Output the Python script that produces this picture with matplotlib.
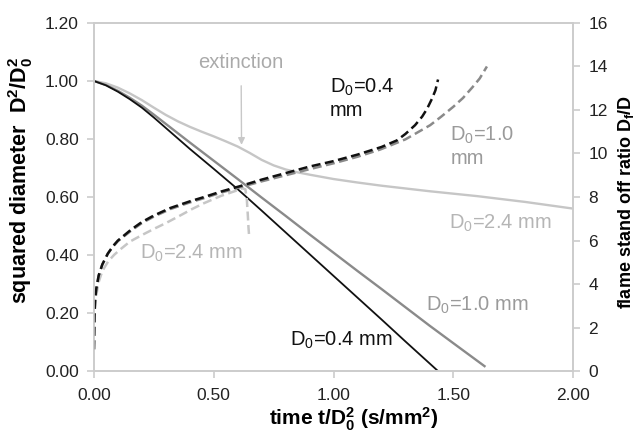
import matplotlib
matplotlib.use('Agg')
from matplotlib import pyplot as plt

plt.rcParams['font.family'] = ['Liberation Sans', 'DejaVu Sans']
plt.rcParams['mathtext.fontset'] = 'custom'
plt.rcParams['mathtext.rm'] = 'Liberation Sans'
plt.rcParams['mathtext.it'] = 'Liberation Sans'
plt.rcParams['mathtext.bf'] = 'Liberation Sans:bold'

# squared diameter D^2/D0^2 (left axis)
t_d04 = [0.0, 0.05, 0.1, 0.15, 0.2, 0.25, 0.3, 0.35, 0.4, 0.5, 0.6, 0.7, 0.8, 0.9, 1.0, 1.1, 1.2, 1.3, 1.436]
d2_d04 = [1.0, 0.985, 0.963, 0.937, 0.908, 0.874, 0.838, 0.802, 0.766, 0.697, 0.627, 0.553, 0.478, 0.403, 0.328, 0.253, 0.178, 0.102, 0.0]

t_d10 = [0.0, 0.05, 0.1, 0.15, 0.2, 0.25, 0.3, 0.35, 0.4, 0.5, 0.6, 0.7, 0.8, 0.9, 1.0, 1.1, 1.2, 1.3, 1.4, 1.5, 1.63]
d2_d10 = [1.0, 0.986, 0.966, 0.942, 0.915, 0.884, 0.852, 0.82, 0.788, 0.725, 0.662, 0.598, 0.535, 0.471, 0.408, 0.345, 0.283, 0.22, 0.157, 0.096, 0.017]

t_d24 = [0.0, 0.05, 0.1, 0.15, 0.2, 0.25, 0.3, 0.35, 0.4, 0.45, 0.5, 0.55, 0.6, 0.65, 0.7, 0.75, 0.8, 0.85, 0.9, 1.0, 1.1, 1.2, 1.4, 1.6, 1.8, 2.0]
d2_d24 = [1.0, 0.992, 0.977, 0.957, 0.934, 0.908, 0.883, 0.861, 0.842, 0.825, 0.809, 0.792, 0.774, 0.752, 0.728, 0.709, 0.695, 0.685, 0.677, 0.662, 0.65, 0.639, 0.62, 0.603, 0.583, 0.56]

# flame stand off ratio Df/D (right axis)
ts_d04 = [0.0, 0.002, 0.005, 0.01, 0.02, 0.035, 0.058, 0.08, 0.1, 0.155, 0.2, 0.25, 0.32, 0.4, 0.46, 0.53, 0.61, 0.7, 0.8, 0.9, 1.0, 1.1, 1.2, 1.264, 1.3, 1.34, 1.37, 1.39, 1.41, 1.425, 1.436]
fs_d04 = [1.0, 2.5, 3.3, 3.8, 4.4, 4.9, 5.4, 5.75, 6.0, 6.5, 6.85, 7.15, 7.5, 7.8, 8.0, 8.25, 8.5, 8.8, 9.1, 9.4, 9.65, 9.95, 10.3, 10.6, 10.9, 11.3, 11.7, 12.05, 12.5, 12.9, 13.4]

ts_d10 = [0.0, 0.002, 0.005, 0.01, 0.02, 0.035, 0.058, 0.08, 0.1, 0.155, 0.2, 0.25, 0.32, 0.4, 0.46, 0.53, 0.61, 0.7, 0.8, 0.9, 1.0, 1.1, 1.194, 1.3, 1.403, 1.45, 1.5, 1.54, 1.58, 1.61, 1.64]
fs_d10 = [1.0, 2.5, 3.3, 3.8, 4.4, 4.9, 5.4, 5.72, 5.97, 6.45, 6.8, 7.1, 7.45, 7.75, 7.95, 8.2, 8.45, 8.72, 9.0, 9.28, 9.55, 9.85, 10.18, 10.65, 11.3, 11.7, 12.15, 12.55, 13.05, 13.45, 14.0]

ts_d24 = [0.0, 0.002, 0.005, 0.01, 0.02, 0.035, 0.06, 0.085, 0.113, 0.15, 0.2, 0.253, 0.3, 0.36, 0.41, 0.46, 0.53, 0.596, 0.62, 0.632, 0.638, 0.642, 0.645, 0.647]
fs_d24 = [1.0, 2.3, 3.0, 3.5, 4.1, 4.6, 5.05, 5.35, 5.62, 5.95, 6.25, 6.55, 6.8, 7.15, 7.45, 7.72, 8.05, 8.3, 8.4, 8.35, 7.9, 7.2, 6.6, 6.3]

x_ticks = [0.0, 0.5, 1.0, 1.5, 2.0]
y_ticks = [0.0, 0.2, 0.4, 0.6, 0.8, 1.0, 1.2]
y2_ticks = [0, 2, 4, 6, 8, 10, 12, 14, 16]

BLACK = '#111111'
GRAY = '#8a8a8a'
LIGHT = '#c6c6c6'
SPINE = '#cccccc'

fig = plt.figure(figsize=(6.39, 4.33), dpi=100)
ax = fig.add_axes([0.147, 0.143, 0.75, 0.804])
ax2 = ax.twinx()

ax.plot(t_d24, d2_d24, color=LIGHT, lw=1.7)
ax.plot(t_d10, d2_d10, color=GRAY, lw=1.7)
ax.plot(t_d04, d2_d04, color=BLACK, lw=1.3)

ax2.plot(ts_d24, fs_d24, color=LIGHT, lw=1.8, dashes=(3.6, 1.8))
ax2.plot(ts_d10, fs_d10, color=GRAY, lw=1.8, dashes=(3.6, 1.8))
ax2.plot(ts_d04, fs_d04, color=BLACK, lw=1.8, dashes=(3.6, 1.8))

ax.set_xlim(0, 2.0)
ax.set_ylim(0, 1.2)
ax2.set_ylim(0, 16)
ax.set_xticks(x_ticks)
ax.set_xticklabels(['%.2f' % v for v in x_ticks])
ax.set_yticks(y_ticks)
ax.set_yticklabels(['%.2f' % v for v in y_ticks])
ax2.set_yticks(y2_ticks)

for a in (ax, ax2):
    for s in a.spines.values():
        s.set_color(SPINE)
        s.set_linewidth(1.2)
    a.tick_params(colors=SPINE, labelcolor='#222222', labelsize=12.5, length=5, width=1.2)
ax.tick_params(axis='x', pad=7)
ax.tick_params(axis='y', pad=6)
ax2.tick_params(axis='y', pad=6)

ax.set_xlabel(r'time t/D$\mathbf{_0^2}$ (s/mm$\mathbf{^2}$)', fontsize=15, fontweight='bold')
ax.xaxis.set_label_coords(0.543, -0.098)
ax.set_ylabel(r'squared diameter  D$\mathbf{^2}$/D$\mathbf{_0^2}$', fontsize=15.5, fontweight='bold')
ax.yaxis.set_label_coords(-0.123, 0.549)
ax2.set_ylabel(r'flame stand off ratio D$\mathbf{_f}$/D', fontsize=13, fontweight='bold', rotation=90)
ax2.yaxis.set_label_coords(1.09, 0.486)

# labels
ax.text(0.985, 0.94, 'D$_0$=0.4\nmm', color=BLACK, fontsize=14.5, va='center', linespacing=1.2)
ax.text(1.487, 0.775, 'D$_0$=1.0\nmm', color='#9a9a9a', fontsize=14.5, va='center', linespacing=1.2)
ax.text(1.482, 0.51, 'D$_0$=2.4 mm', color='#b5b5b5', fontsize=14.5, va='center')
ax.text(0.192, 0.407, 'D$_0$=2.4 mm', color='#b5b5b5', fontsize=14.5, va='center')
ax.text(1.385, 0.228, 'D$_0$=1.0 mm', color='#9a9a9a', fontsize=14.5, va='center')
ax.text(0.82, 0.107, 'D$_0$=0.4 mm', color=BLACK, fontsize=14.5, va='center')

ax.annotate('extinction', xy=(0.616, 0.78), xytext=(0.614, 1.064),
            color='#aaaaaa', fontsize=14.5, ha='center', va='center',
            arrowprops=dict(arrowstyle='-|>', color='#c8c8c8', lw=1, shrinkA=8, shrinkB=0, mutation_scale=10))

fig.savefig('out.png', dpi=100)
